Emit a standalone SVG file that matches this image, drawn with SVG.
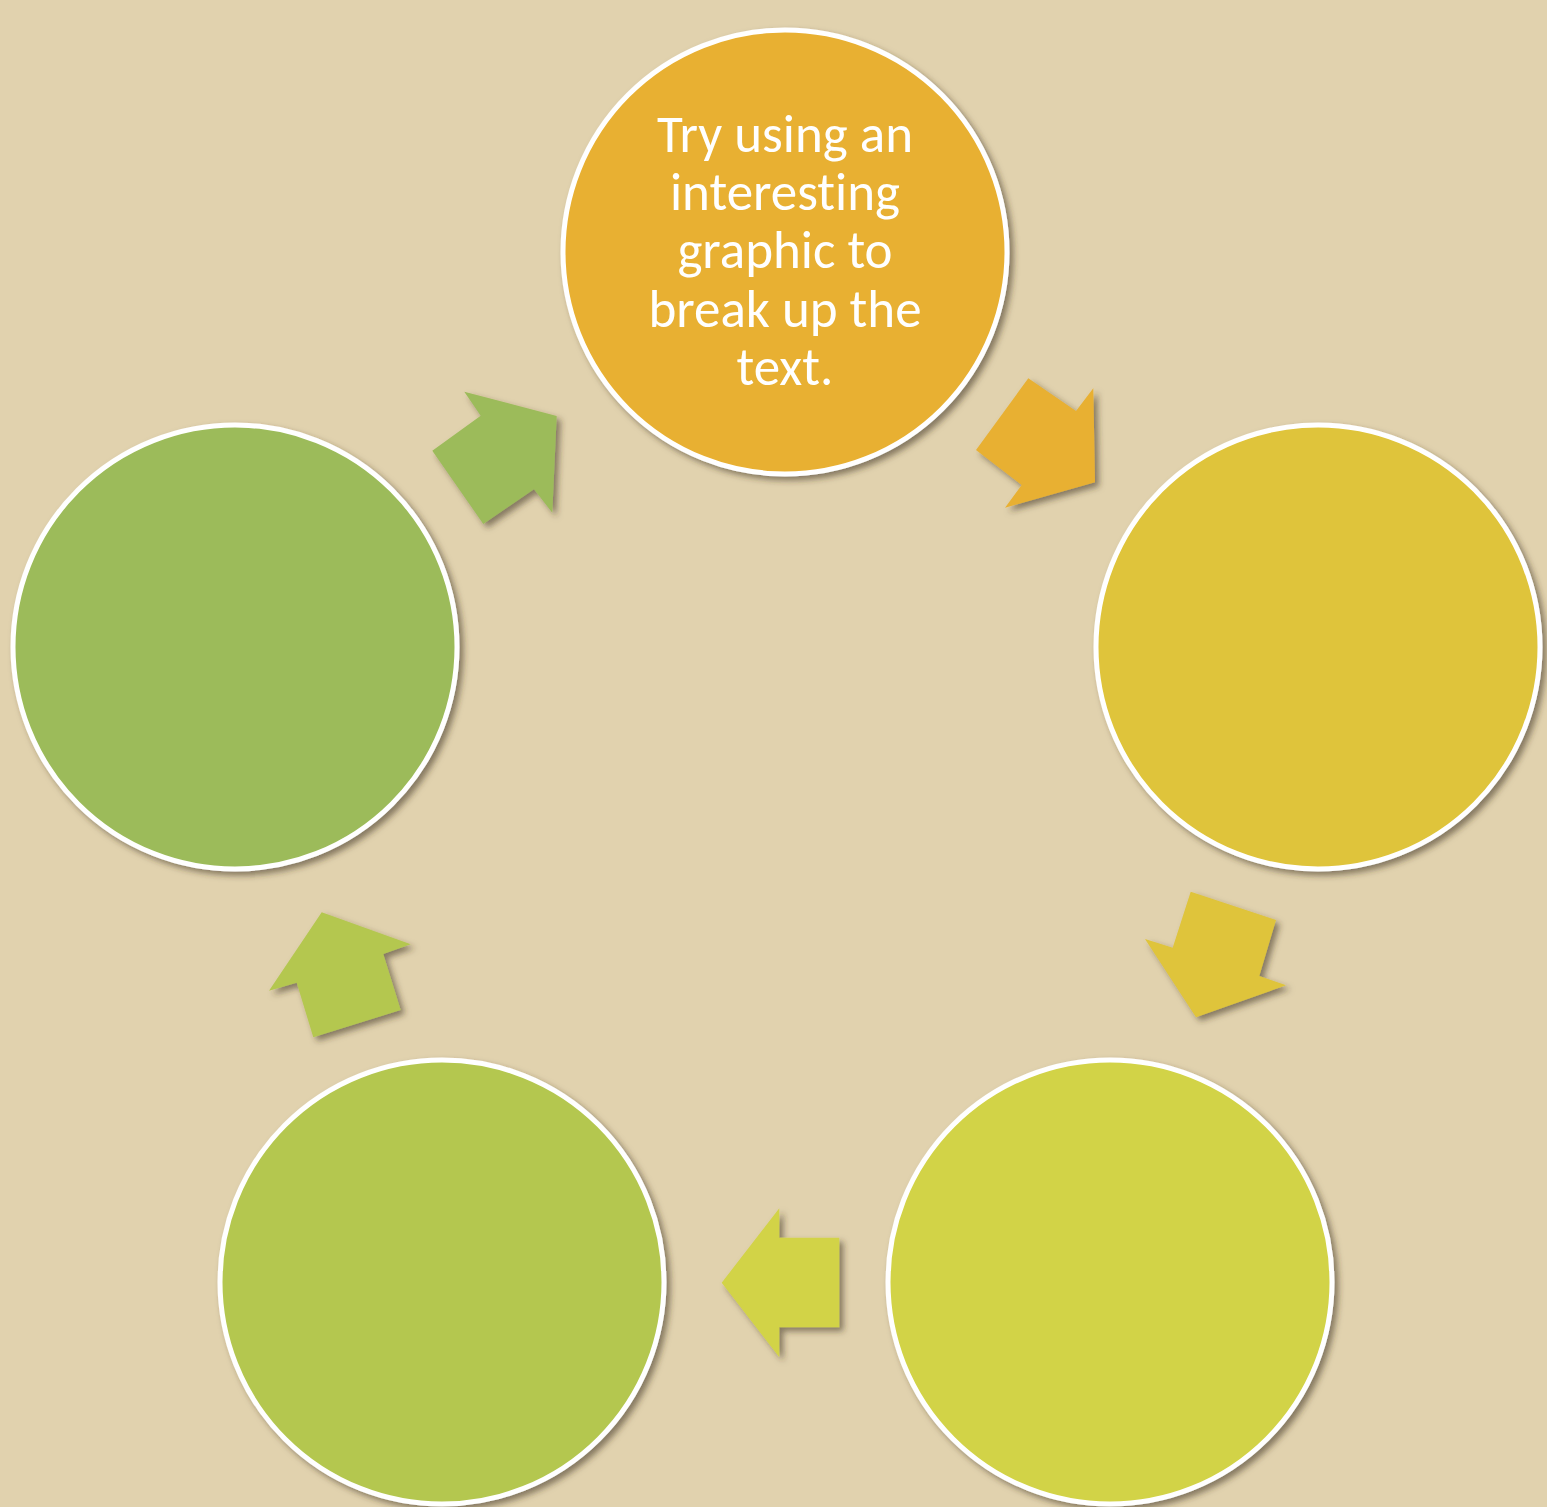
<svg xmlns="http://www.w3.org/2000/svg" width="1547" height="1507" viewBox="0 0 1547 1507">
<defs>
<filter id="sh" x="-10%" y="-10%" width="130%" height="130%">
<feDropShadow dx="4" dy="4" stdDeviation="3" flood-color="#3a2f1a" flood-opacity="0.55"/>
</filter>
<style>
.node{stroke:#ffffff;stroke-width:5;filter:url(#sh)}
.arr{filter:url(#sh)}
.lbl{font-family:"Carlito","Liberation Sans",sans-serif;font-size:53px;fill:#ffffff;text-anchor:middle;font-variant-ligatures:none}
</style>
</defs>
<rect width="1547" height="1507" fill="#E1D2AE"/>
<g id="connectors">
<polygon class="arr" fill="#E8B032" points="1028.3,378.3 1076,411 1093.3,388.3 1095,482.3 1005,507.7 1021.7,485 976,450"/>
<polygon class="arr" fill="#DFC43A" points="1190.7,891.7 1276,920 1259.3,976 1286,985.3 1196,1017.3 1145,939 1172.7,947.7"/>
<polygon class="arr" fill="#D2D346" points="779.3,1208.3 779.3,1237.7 839.3,1237.7 839.3,1327.3 779.3,1327.3 779.3,1357.3 721.7,1282.7"/>
<polygon class="arr" fill="#B4C750" points="321.7,912.3 410.7,944.3 383.3,954 400.7,1010 313.3,1037.3 296.7,982.7 269,990.7"/>
<polygon class="arr" fill="#9CBB5A" points="464.3,391.7 556.7,416 552.3,512.7 534,489.3 483.3,524 432.3,450.7 480.7,415.7"/>
</g>
<g id="node-top">
<circle class="node" cx="785" cy="252" r="222" fill="#E8B032"/>
<text class="lbl" x="785" y="152">Try using an</text>
<text class="lbl" x="785" y="210">interesting</text>
<text class="lbl" x="785" y="268">graphic to</text>
<text class="lbl" x="785" y="327">break up the</text>
<text class="lbl" x="785" y="385">text.</text>
</g>
<g id="node-right">
<circle class="node" cx="1318" cy="647" r="222" fill="#DFC43A"/>
</g>
<g id="node-bottom-right">
<circle class="node" cx="1110" cy="1282" r="222" fill="#D2D346"/>
</g>
<g id="node-bottom-left">
<circle class="node" cx="442" cy="1282" r="222" fill="#B4C750"/>
</g>
<g id="node-left">
<circle class="node" cx="235" cy="647" r="222" fill="#9CBB5A"/>
</g>
</svg>
